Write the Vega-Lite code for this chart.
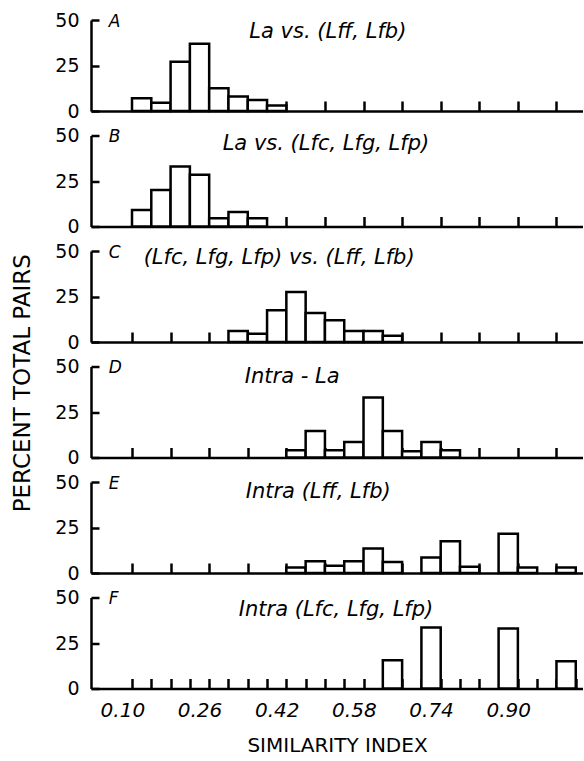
{
  "$schema": "https://vega.github.io/schema/vega-lite/v6.json",
  "background": "white",
  "padding": {"left": 11, "top": 11, "right": 0, "bottom": 0},
  "title": {"text": "PERCENT  TOTAL  PAIRS", "orient": "left", "anchor": "middle", "fontSize": 23, "fontWeight": "normal", "font": "DejaVu Sans", "color": "black", "offset": 20},
  "datasets": {
    "bins": [
      {"panel": "A", "lo": 0.12, "hi": 0.16, "pct": 7},
      {"panel": "A", "lo": 0.16, "hi": 0.20, "pct": 4.5},
      {"panel": "A", "lo": 0.20, "hi": 0.24, "pct": 27},
      {"panel": "A", "lo": 0.24, "hi": 0.28, "pct": 37},
      {"panel": "A", "lo": 0.28, "hi": 0.32, "pct": 12.5},
      {"panel": "A", "lo": 0.32, "hi": 0.36, "pct": 8},
      {"panel": "A", "lo": 0.36, "hi": 0.40, "pct": 6},
      {"panel": "A", "lo": 0.40, "hi": 0.44, "pct": 3},
      {"panel": "B", "lo": 0.12, "hi": 0.16, "pct": 9},
      {"panel": "B", "lo": 0.16, "hi": 0.20, "pct": 20},
      {"panel": "B", "lo": 0.20, "hi": 0.24, "pct": 33},
      {"panel": "B", "lo": 0.24, "hi": 0.28, "pct": 28.5},
      {"panel": "B", "lo": 0.28, "hi": 0.32, "pct": 4.5},
      {"panel": "B", "lo": 0.32, "hi": 0.36, "pct": 8},
      {"panel": "B", "lo": 0.36, "hi": 0.40, "pct": 4.5},
      {"panel": "C", "lo": 0.32, "hi": 0.36, "pct": 6},
      {"panel": "C", "lo": 0.36, "hi": 0.40, "pct": 4.5},
      {"panel": "C", "lo": 0.40, "hi": 0.44, "pct": 17.5},
      {"panel": "C", "lo": 0.44, "hi": 0.48, "pct": 27.5},
      {"panel": "C", "lo": 0.48, "hi": 0.52, "pct": 16},
      {"panel": "C", "lo": 0.52, "hi": 0.56, "pct": 12},
      {"panel": "C", "lo": 0.56, "hi": 0.60, "pct": 6},
      {"panel": "C", "lo": 0.60, "hi": 0.64, "pct": 6},
      {"panel": "C", "lo": 0.64, "hi": 0.68, "pct": 3.5},
      {"panel": "D", "lo": 0.44, "hi": 0.48, "pct": 4},
      {"panel": "D", "lo": 0.48, "hi": 0.52, "pct": 14.5},
      {"panel": "D", "lo": 0.52, "hi": 0.56, "pct": 4},
      {"panel": "D", "lo": 0.56, "hi": 0.60, "pct": 8.5},
      {"panel": "D", "lo": 0.60, "hi": 0.64, "pct": 33},
      {"panel": "D", "lo": 0.64, "hi": 0.68, "pct": 14.5},
      {"panel": "D", "lo": 0.68, "hi": 0.72, "pct": 3.5},
      {"panel": "D", "lo": 0.72, "hi": 0.76, "pct": 8.5},
      {"panel": "D", "lo": 0.76, "hi": 0.80, "pct": 4},
      {"panel": "E", "lo": 0.44, "hi": 0.48, "pct": 3},
      {"panel": "E", "lo": 0.48, "hi": 0.52, "pct": 6.5},
      {"panel": "E", "lo": 0.52, "hi": 0.56, "pct": 4},
      {"panel": "E", "lo": 0.56, "hi": 0.60, "pct": 6.5},
      {"panel": "E", "lo": 0.60, "hi": 0.64, "pct": 13.5},
      {"panel": "E", "lo": 0.64, "hi": 0.68, "pct": 6},
      {"panel": "E", "lo": 0.72, "hi": 0.76, "pct": 8.5},
      {"panel": "E", "lo": 0.76, "hi": 0.80, "pct": 17.5},
      {"panel": "E", "lo": 0.80, "hi": 0.84, "pct": 3.5},
      {"panel": "E", "lo": 0.88, "hi": 0.92, "pct": 21.5},
      {"panel": "E", "lo": 0.92, "hi": 0.96, "pct": 3},
      {"panel": "E", "lo": 1.00, "hi": 1.04, "pct": 3},
      {"panel": "F", "lo": 0.64, "hi": 0.68, "pct": 15.5},
      {"panel": "F", "lo": 0.72, "hi": 0.76, "pct": 33.5},
      {"panel": "F", "lo": 0.88, "hi": 0.92, "pct": 33},
      {"panel": "F", "lo": 1.00, "hi": 1.04, "pct": 15}
    ],
    "panels": [
      {"panel": "A", "name": "La vs. (Lff, Lfb)"},
      {"panel": "B", "name": "La vs. (Lfc, Lfg, Lfp)"},
      {"panel": "C", "name": "(Lfc, Lfg, Lfp) vs. (Lff, Lfb)"},
      {"panel": "D", "name": "Intra - La"},
      {"panel": "E", "name": "Intra (Lff, Lfb)"},
      {"panel": "F", "name": "Intra (Lfc, Lfg, Lfp)"}
    ]
  },
  "bounds": "flush",
  "spacing": 24.5,
  "vconcat": [
    {
      "width": 492, "height": 91,
      "layer": [
        {"data": {"name": "bins"}, "transform": [{"filter": "datum.panel === 'A'"}],
         "mark": {"type": "rect", "fill": "white", "stroke": "black", "strokeWidth": 2.5},
         "encoding": {
           "x": {"field": "lo", "type": "quantitative", "scale": {"domain": [0.035, 1.055], "nice": false, "zero": false},
                 "axis": {"orient": "bottom", "values": [0.12,0.16,0.2,0.24,0.28,0.32,0.36,0.4,0.44,0.48,0.52,0.56,0.6,0.64,0.68,0.72,0.76,0.8,0.84,0.88,0.92,0.96,1.0,1.04], "tickSize": -10, "labels": false, "title": null}},
           "x2": {"field": "hi"},
           "y": {"field": "pct", "type": "quantitative", "scale": {"domain": [0, 50], "nice": false},
                 "axis": {"values": [0, 25, 50], "tickSize": -8, "labelFontSize": 19, "labelPadding": 20, "title": null}}}},
        {"data": {"name": "panels"}, "transform": [{"filter": "datum.panel === 'A'"}],
         "mark": {"type": "text", "align": "left", "baseline": "alphabetic", "fontSize": 17, "fontStyle": "italic"},
         "encoding": {"text": {"field": "panel"}, "x": {"datum": 0.072, "type": "quantitative", "title": null}, "y": {"datum": 46.3, "type": "quantitative", "title": null}}},
        {"data": {"name": "panels"}, "transform": [{"filter": "datum.panel === 'A'"}],
         "mark": {"type": "text", "align": "center", "baseline": "alphabetic", "fontSize": 21, "fontStyle": "italic"},
         "encoding": {"text": {"field": "name"}, "x": {"datum": 0.526, "type": "quantitative", "title": null}, "y": {"datum": 40, "type": "quantitative", "title": null}}}
      ]
    },
    {
      "width": 492, "height": 91,
      "layer": [
        {"data": {"name": "bins"}, "transform": [{"filter": "datum.panel === 'B'"}],
         "mark": {"type": "rect", "fill": "white", "stroke": "black", "strokeWidth": 2.5},
         "encoding": {
           "x": {"field": "lo", "type": "quantitative", "scale": {"domain": [0.035, 1.055], "nice": false, "zero": false},
                 "axis": {"orient": "bottom", "values": [0.12,0.16,0.2,0.24,0.28,0.32,0.36,0.4,0.44,0.48,0.52,0.56,0.6,0.64,0.68,0.72,0.76,0.8,0.84,0.88,0.92,0.96,1.0,1.04], "tickSize": -10, "labels": false, "title": null}},
           "x2": {"field": "hi"},
           "y": {"field": "pct", "type": "quantitative", "scale": {"domain": [0, 50], "nice": false},
                 "axis": {"values": [0, 25, 50], "tickSize": -8, "labelFontSize": 19, "labelPadding": 20, "title": null}}}},
        {"data": {"name": "panels"}, "transform": [{"filter": "datum.panel === 'B'"}],
         "mark": {"type": "text", "align": "left", "baseline": "alphabetic", "fontSize": 17, "fontStyle": "italic"},
         "encoding": {"text": {"field": "panel"}, "x": {"datum": 0.072, "type": "quantitative", "title": null}, "y": {"datum": 46.3, "type": "quantitative", "title": null}}},
        {"data": {"name": "panels"}, "transform": [{"filter": "datum.panel === 'B'"}],
         "mark": {"type": "text", "align": "center", "baseline": "alphabetic", "fontSize": 21, "fontStyle": "italic"},
         "encoding": {"text": {"field": "name"}, "x": {"datum": 0.522, "type": "quantitative", "title": null}, "y": {"datum": 42, "type": "quantitative", "title": null}}}
      ]
    },
    {
      "width": 492, "height": 91,
      "layer": [
        {"data": {"name": "bins"}, "transform": [{"filter": "datum.panel === 'C'"}],
         "mark": {"type": "rect", "fill": "white", "stroke": "black", "strokeWidth": 2.5},
         "encoding": {
           "x": {"field": "lo", "type": "quantitative", "scale": {"domain": [0.035, 1.055], "nice": false, "zero": false},
                 "axis": {"orient": "bottom", "values": [0.12,0.16,0.2,0.24,0.28,0.32,0.36,0.4,0.44,0.48,0.52,0.56,0.6,0.64,0.68,0.72,0.76,0.8,0.84,0.88,0.92,0.96,1.0,1.04], "tickSize": -10, "labels": false, "title": null}},
           "x2": {"field": "hi"},
           "y": {"field": "pct", "type": "quantitative", "scale": {"domain": [0, 50], "nice": false},
                 "axis": {"values": [0, 25, 50], "tickSize": -8, "labelFontSize": 19, "labelPadding": 20, "title": null}}}},
        {"data": {"name": "panels"}, "transform": [{"filter": "datum.panel === 'C'"}],
         "mark": {"type": "text", "align": "left", "baseline": "alphabetic", "fontSize": 17, "fontStyle": "italic"},
         "encoding": {"text": {"field": "panel"}, "x": {"datum": 0.072, "type": "quantitative", "title": null}, "y": {"datum": 46.3, "type": "quantitative", "title": null}}},
        {"data": {"name": "panels"}, "transform": [{"filter": "datum.panel === 'C'"}],
         "mark": {"type": "text", "align": "center", "baseline": "alphabetic", "fontSize": 21, "fontStyle": "italic"},
         "encoding": {"text": {"field": "name"}, "x": {"datum": 0.425, "type": "quantitative", "title": null}, "y": {"datum": 43, "type": "quantitative", "title": null}}}
      ]
    },
    {
      "width": 492, "height": 91,
      "layer": [
        {"data": {"name": "bins"}, "transform": [{"filter": "datum.panel === 'D'"}],
         "mark": {"type": "rect", "fill": "white", "stroke": "black", "strokeWidth": 2.5},
         "encoding": {
           "x": {"field": "lo", "type": "quantitative", "scale": {"domain": [0.035, 1.055], "nice": false, "zero": false},
                 "axis": {"orient": "bottom", "values": [0.12,0.16,0.2,0.24,0.28,0.32,0.36,0.4,0.44,0.48,0.52,0.56,0.6,0.64,0.68,0.72,0.76,0.8,0.84,0.88,0.92,0.96,1.0,1.04], "tickSize": -10, "labels": false, "title": null}},
           "x2": {"field": "hi"},
           "y": {"field": "pct", "type": "quantitative", "scale": {"domain": [0, 50], "nice": false},
                 "axis": {"values": [0, 25, 50], "tickSize": -8, "labelFontSize": 19, "labelPadding": 20, "title": null}}}},
        {"data": {"name": "panels"}, "transform": [{"filter": "datum.panel === 'D'"}],
         "mark": {"type": "text", "align": "left", "baseline": "alphabetic", "fontSize": 17, "fontStyle": "italic"},
         "encoding": {"text": {"field": "panel"}, "x": {"datum": 0.072, "type": "quantitative", "title": null}, "y": {"datum": 46.3, "type": "quantitative", "title": null}}},
        {"data": {"name": "panels"}, "transform": [{"filter": "datum.panel === 'D'"}],
         "mark": {"type": "text", "align": "center", "baseline": "alphabetic", "fontSize": 21, "fontStyle": "italic"},
         "encoding": {"text": {"field": "name"}, "x": {"datum": 0.452, "type": "quantitative", "title": null}, "y": {"datum": 41, "type": "quantitative", "title": null}}}
      ]
    },
    {
      "width": 492, "height": 91,
      "layer": [
        {"data": {"name": "bins"}, "transform": [{"filter": "datum.panel === 'E'"}],
         "mark": {"type": "rect", "fill": "white", "stroke": "black", "strokeWidth": 2.5},
         "encoding": {
           "x": {"field": "lo", "type": "quantitative", "scale": {"domain": [0.035, 1.055], "nice": false, "zero": false},
                 "axis": {"orient": "bottom", "values": [0.12,0.16,0.2,0.24,0.28,0.32,0.36,0.4,0.44,0.48,0.52,0.56,0.6,0.64,0.68,0.72,0.76,0.8,0.84,0.88,0.92,0.96,1.0,1.04], "tickSize": -10, "labels": false, "title": null}},
           "x2": {"field": "hi"},
           "y": {"field": "pct", "type": "quantitative", "scale": {"domain": [0, 50], "nice": false},
                 "axis": {"values": [0, 25, 50], "tickSize": -8, "labelFontSize": 19, "labelPadding": 20, "title": null}}}},
        {"data": {"name": "panels"}, "transform": [{"filter": "datum.panel === 'E'"}],
         "mark": {"type": "text", "align": "left", "baseline": "alphabetic", "fontSize": 17, "fontStyle": "italic"},
         "encoding": {"text": {"field": "panel"}, "x": {"datum": 0.072, "type": "quantitative", "title": null}, "y": {"datum": 46.3, "type": "quantitative", "title": null}}},
        {"data": {"name": "panels"}, "transform": [{"filter": "datum.panel === 'E'"}],
         "mark": {"type": "text", "align": "center", "baseline": "alphabetic", "fontSize": 21, "fontStyle": "italic"},
         "encoding": {"text": {"field": "name"}, "x": {"datum": 0.506, "type": "quantitative", "title": null}, "y": {"datum": 41, "type": "quantitative", "title": null}}}
      ]
    },
    {
      "width": 492, "height": 91,
      "resolve": {"axis": {"x": "independent"}},
      "layer": [
        {"data": {"name": "bins"}, "transform": [{"filter": "datum.panel === 'F'"}],
         "mark": {"type": "rect", "fill": "white", "stroke": "black", "strokeWidth": 2.5},
         "encoding": {
           "x": {"field": "lo", "type": "quantitative", "scale": {"domain": [0.035, 1.055], "nice": false, "zero": false},
                 "axis": {"orient": "bottom", "values": [0.12,0.16,0.2,0.24,0.28,0.32,0.36,0.4,0.44,0.48,0.52,0.56,0.6,0.64,0.68,0.72,0.76,0.8,0.84,0.88,0.92,0.96,1.0,1.04], "tickSize": -10, "labels": false, "title": null}},
           "x2": {"field": "hi"},
           "y": {"field": "pct", "type": "quantitative", "scale": {"domain": [0, 50], "nice": false},
                 "axis": {"values": [0, 25, 50], "tickSize": -8, "labelFontSize": 19, "labelPadding": 20, "title": null}}}},
        {"data": {"name": "panels"}, "transform": [{"filter": "datum.panel === 'F'"}],
         "mark": {"type": "text", "align": "left", "baseline": "alphabetic", "fontSize": 17, "fontStyle": "italic"},
         "encoding": {"text": {"field": "panel"},
           "x": {"datum": 0.072, "type": "quantitative",
                 "axis": {"orient": "bottom", "values": [0.1, 0.26, 0.42, 0.58, 0.74, 0.9], "format": ".2f", "tickSize": 0, "domain": false, "labelFontSize": 20, "labelFontStyle": "italic", "labelPadding": 12, "title": "SIMILARITY  INDEX", "titleFontSize": 20, "titlePadding": 15}},
           "y": {"datum": 46.3, "type": "quantitative", "title": null}}},
        {"data": {"name": "panels"}, "transform": [{"filter": "datum.panel === 'F'"}],
         "mark": {"type": "text", "align": "center", "baseline": "alphabetic", "fontSize": 21, "fontStyle": "italic"},
         "encoding": {"text": {"field": "name"}, "x": {"datum": 0.543, "type": "quantitative", "axis": null}, "y": {"datum": 40, "type": "quantitative", "title": null}}}
      ]
    }
  ],
  "config": {
    "font": "DejaVu Sans",
    "view": {"stroke": null},
    "text": {"font": "DejaVu Sans", "color": "black"},
    "axis": {"grid": false, "domainColor": "black", "domainWidth": 2.5, "tickColor": "black", "tickWidth": 2.5, "labelColor": "black", "labelFont": "DejaVu Sans", "titleFont": "DejaVu Sans", "titleFontWeight": "normal", "titleColor": "black"}
  }
}
